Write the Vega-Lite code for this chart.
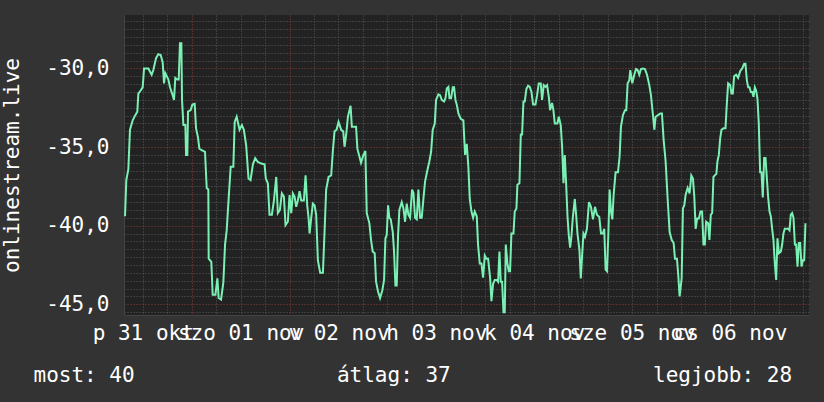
{
  "$schema": "https://vega.github.io/schema/vega-lite/v6.json",
  "width": 685,
  "height": 300,
  "autosize": {"type": "none"},
  "padding": {"left": 124, "top": 15, "right": 15, "bottom": 87},
  "background": "#333333",
  "config": {
    "view": {"fill": "#222222", "stroke": null},
    "font": "DejaVu Sans Mono",
    "axis": {
      "labelFont": "DejaVu Sans Mono",
      "titleFont": "DejaVu Sans Mono",
      "labelFontSize": 21,
      "titleFontSize": 21,
      "labelColor": "#ffffff",
      "titleColor": "#ffffff",
      "titleFontWeight": "normal",
      "ticks": false,
      "domainColor": "#444444",
      "gridDash": [1, 2],
      "gridOpacity": 1,
      "gridWidth": 1
    }
  },
  "data": {
    "values": [
      {"time": "2025-10-31T07:39:00Z", "value": -39.4},
      {"time": "2025-10-31T07:58:00Z", "value": -37.1},
      {"time": "2025-10-31T08:28:00Z", "value": -36.4},
      {"time": "2025-10-31T08:52:00Z", "value": -33.9},
      {"time": "2025-10-31T09:32:00Z", "value": -33.3},
      {"time": "2025-10-31T10:06:00Z", "value": -33.0},
      {"time": "2025-10-31T10:40:00Z", "value": -32.75},
      {"time": "2025-10-31T10:55:00Z", "value": -31.6},
      {"time": "2025-10-31T11:29:00Z", "value": -31.4},
      {"time": "2025-10-31T11:59:00Z", "value": -31.2},
      {"time": "2025-10-31T12:19:00Z", "value": -30.0},
      {"time": "2025-10-31T13:22:00Z", "value": -30.0},
      {"time": "2025-10-31T14:11:00Z", "value": -30.4},
      {"time": "2025-10-31T14:36:00Z", "value": -30.1},
      {"time": "2025-10-31T15:15:00Z", "value": -29.35},
      {"time": "2025-10-31T15:49:00Z", "value": -29.1},
      {"time": "2025-10-31T16:24:00Z", "value": -29.15},
      {"time": "2025-10-31T16:53:00Z", "value": -29.6},
      {"time": "2025-10-31T17:13:00Z", "value": -30.95},
      {"time": "2025-10-31T17:32:00Z", "value": -30.3},
      {"time": "2025-10-31T18:17:00Z", "value": -30.7},
      {"time": "2025-10-31T18:41:00Z", "value": -31.2},
      {"time": "2025-10-31T19:20:00Z", "value": -31.7},
      {"time": "2025-10-31T19:40:00Z", "value": -32.0},
      {"time": "2025-10-31T19:59:00Z", "value": -30.6},
      {"time": "2025-10-31T20:29:00Z", "value": -30.7},
      {"time": "2025-10-31T20:49:00Z", "value": -30.7},
      {"time": "2025-10-31T21:08:00Z", "value": -28.4},
      {"time": "2025-10-31T21:28:00Z", "value": -28.4},
      {"time": "2025-10-31T21:38:00Z", "value": -32.0},
      {"time": "2025-10-31T21:58:00Z", "value": -33.6},
      {"time": "2025-10-31T22:27:00Z", "value": -33.6},
      {"time": "2025-10-31T22:37:00Z", "value": -35.5},
      {"time": "2025-10-31T22:56:00Z", "value": -35.5},
      {"time": "2025-10-31T23:06:00Z", "value": -32.75},
      {"time": "2025-10-31T23:45:00Z", "value": -32.65},
      {"time": "2025-11-01T00:10:00Z", "value": -32.3},
      {"time": "2025-11-01T00:44:00Z", "value": -32.25},
      {"time": "2025-11-01T01:04:00Z", "value": -33.8},
      {"time": "2025-11-01T01:33:00Z", "value": -34.4},
      {"time": "2025-11-01T01:53:00Z", "value": -35.1},
      {"time": "2025-11-01T02:27:00Z", "value": -35.2},
      {"time": "2025-11-01T03:16:00Z", "value": -35.3},
      {"time": "2025-11-01T03:41:00Z", "value": -37.6},
      {"time": "2025-11-01T04:05:00Z", "value": -37.7},
      {"time": "2025-11-01T04:10:00Z", "value": -42.1},
      {"time": "2025-11-01T04:49:00Z", "value": -42.3},
      {"time": "2025-11-01T05:09:00Z", "value": -44.4},
      {"time": "2025-11-01T05:49:00Z", "value": -44.4},
      {"time": "2025-11-01T06:18:00Z", "value": -43.35},
      {"time": "2025-11-01T06:37:00Z", "value": -44.6},
      {"time": "2025-11-01T07:12:00Z", "value": -44.7},
      {"time": "2025-11-01T07:46:00Z", "value": -43.6},
      {"time": "2025-11-01T08:11:00Z", "value": -41.2},
      {"time": "2025-11-01T08:35:00Z", "value": -40.3},
      {"time": "2025-11-01T09:05:00Z", "value": -38.2},
      {"time": "2025-11-01T09:34:00Z", "value": -36.25},
      {"time": "2025-11-01T10:13:00Z", "value": -36.25},
      {"time": "2025-11-01T10:33:00Z", "value": -33.4},
      {"time": "2025-11-01T11:02:00Z", "value": -33.07},
      {"time": "2025-11-01T11:44:00Z", "value": -33.9},
      {"time": "2025-11-01T12:19:00Z", "value": -33.6},
      {"time": "2025-11-01T12:48:00Z", "value": -33.9},
      {"time": "2025-11-01T13:22:00Z", "value": -34.9},
      {"time": "2025-11-01T13:56:00Z", "value": -37.0},
      {"time": "2025-11-01T14:26:00Z", "value": -37.1},
      {"time": "2025-11-01T15:01:00Z", "value": -36.1},
      {"time": "2025-11-01T15:35:00Z", "value": -35.7},
      {"time": "2025-11-01T16:14:00Z", "value": -35.95},
      {"time": "2025-11-01T17:03:00Z", "value": -36.05},
      {"time": "2025-11-01T17:52:00Z", "value": -36.1},
      {"time": "2025-11-01T18:11:00Z", "value": -37.0},
      {"time": "2025-11-01T18:41:00Z", "value": -37.3},
      {"time": "2025-11-01T19:05:00Z", "value": -39.3},
      {"time": "2025-11-01T19:40:00Z", "value": -39.3},
      {"time": "2025-11-01T20:10:00Z", "value": -38.4},
      {"time": "2025-11-01T20:44:00Z", "value": -36.9},
      {"time": "2025-11-01T21:08:00Z", "value": -39.2},
      {"time": "2025-11-01T21:38:00Z", "value": -39.0},
      {"time": "2025-11-01T22:07:00Z", "value": -37.95},
      {"time": "2025-11-01T22:37:00Z", "value": -38.15},
      {"time": "2025-11-01T23:01:00Z", "value": -39.96},
      {"time": "2025-11-01T23:35:00Z", "value": -39.75},
      {"time": "2025-11-02T00:00:00Z", "value": -38.05},
      {"time": "2025-11-02T00:25:00Z", "value": -39.2},
      {"time": "2025-11-02T00:49:00Z", "value": -37.95},
      {"time": "2025-11-02T01:14:00Z", "value": -38.15},
      {"time": "2025-11-02T01:38:00Z", "value": -38.8},
      {"time": "2025-11-02T02:02:00Z", "value": -38.4},
      {"time": "2025-11-02T02:27:00Z", "value": -37.8},
      {"time": "2025-11-02T02:52:00Z", "value": -38.4},
      {"time": "2025-11-02T03:31:00Z", "value": -38.4},
      {"time": "2025-11-02T03:56:00Z", "value": -36.8},
      {"time": "2025-11-02T04:20:00Z", "value": -38.7},
      {"time": "2025-11-02T04:40:00Z", "value": -39.5},
      {"time": "2025-11-02T04:55:00Z", "value": -40.5},
      {"time": "2025-11-02T05:19:00Z", "value": -39.5},
      {"time": "2025-11-02T05:43:00Z", "value": -38.6},
      {"time": "2025-11-02T06:08:00Z", "value": -38.7},
      {"time": "2025-11-02T06:32:00Z", "value": -39.3},
      {"time": "2025-11-02T06:57:00Z", "value": -42.2},
      {"time": "2025-11-02T07:31:00Z", "value": -43.0},
      {"time": "2025-11-02T08:11:00Z", "value": -43.0},
      {"time": "2025-11-02T08:35:00Z", "value": -40.4},
      {"time": "2025-11-02T08:59:00Z", "value": -37.7},
      {"time": "2025-11-02T09:34:00Z", "value": -36.9},
      {"time": "2025-11-02T10:13:00Z", "value": -36.8},
      {"time": "2025-11-02T10:38:00Z", "value": -35.2},
      {"time": "2025-11-02T11:02:00Z", "value": -34.0},
      {"time": "2025-11-02T11:32:00Z", "value": -33.9},
      {"time": "2025-11-02T12:01:00Z", "value": -33.4},
      {"time": "2025-11-02T12:40:00Z", "value": -33.9},
      {"time": "2025-11-02T13:10:00Z", "value": -34.0},
      {"time": "2025-11-02T13:29:00Z", "value": -34.98},
      {"time": "2025-11-02T13:54:00Z", "value": -34.2},
      {"time": "2025-11-02T14:19:00Z", "value": -33.07},
      {"time": "2025-11-02T14:58:00Z", "value": -32.37},
      {"time": "2025-11-02T15:17:00Z", "value": -33.7},
      {"time": "2025-11-02T15:40:00Z", "value": -33.7},
      {"time": "2025-11-02T16:19:00Z", "value": -33.7},
      {"time": "2025-11-02T16:38:00Z", "value": -35.1},
      {"time": "2025-11-02T17:08:00Z", "value": -35.6},
      {"time": "2025-11-02T17:32:00Z", "value": -36.0},
      {"time": "2025-11-02T18:07:00Z", "value": -35.5},
      {"time": "2025-11-02T18:36:00Z", "value": -35.25},
      {"time": "2025-11-02T18:56:00Z", "value": -39.2},
      {"time": "2025-11-02T19:35:00Z", "value": -39.85},
      {"time": "2025-11-02T19:59:00Z", "value": -40.9},
      {"time": "2025-11-02T20:24:00Z", "value": -41.65},
      {"time": "2025-11-02T20:53:00Z", "value": -41.75},
      {"time": "2025-11-02T21:13:00Z", "value": -43.56},
      {"time": "2025-11-02T21:43:00Z", "value": -44.2},
      {"time": "2025-11-02T22:12:00Z", "value": -44.6},
      {"time": "2025-11-02T22:46:00Z", "value": -44.1},
      {"time": "2025-11-02T23:11:00Z", "value": -43.45},
      {"time": "2025-11-02T23:31:00Z", "value": -40.8},
      {"time": "2025-11-02T23:50:00Z", "value": -40.6},
      {"time": "2025-11-03T00:10:00Z", "value": -38.7},
      {"time": "2025-11-03T00:29:00Z", "value": -39.5},
      {"time": "2025-11-03T00:49:00Z", "value": -39.6},
      {"time": "2025-11-03T01:19:00Z", "value": -40.4},
      {"time": "2025-11-03T01:38:00Z", "value": -41.65},
      {"time": "2025-11-03T01:58:00Z", "value": -43.8},
      {"time": "2025-11-03T02:17:00Z", "value": -43.8},
      {"time": "2025-11-03T02:37:00Z", "value": -40.6},
      {"time": "2025-11-03T02:56:00Z", "value": -39.0},
      {"time": "2025-11-03T03:31:00Z", "value": -38.5},
      {"time": "2025-11-03T03:56:00Z", "value": -38.9},
      {"time": "2025-11-03T04:20:00Z", "value": -39.75},
      {"time": "2025-11-03T04:44:00Z", "value": -38.6},
      {"time": "2025-11-03T05:09:00Z", "value": -39.3},
      {"time": "2025-11-03T05:34:00Z", "value": -39.5},
      {"time": "2025-11-03T06:03:00Z", "value": -37.7},
      {"time": "2025-11-03T06:23:00Z", "value": -37.9},
      {"time": "2025-11-03T06:47:00Z", "value": -39.5},
      {"time": "2025-11-03T07:12:00Z", "value": -39.6},
      {"time": "2025-11-03T07:36:00Z", "value": -37.7},
      {"time": "2025-11-03T08:01:00Z", "value": -39.5},
      {"time": "2025-11-03T08:25:00Z", "value": -39.5},
      {"time": "2025-11-03T08:50:00Z", "value": -38.3},
      {"time": "2025-11-03T09:14:00Z", "value": -37.2},
      {"time": "2025-11-03T09:49:00Z", "value": -36.46},
      {"time": "2025-11-03T10:18:00Z", "value": -35.9},
      {"time": "2025-11-03T10:43:00Z", "value": -35.3},
      {"time": "2025-11-03T11:07:00Z", "value": -33.9},
      {"time": "2025-11-03T11:37:00Z", "value": -33.5},
      {"time": "2025-11-03T11:56:00Z", "value": -32.0},
      {"time": "2025-11-03T12:31:00Z", "value": -31.65},
      {"time": "2025-11-03T12:55:00Z", "value": -31.7},
      {"time": "2025-11-03T13:20:00Z", "value": -32.0},
      {"time": "2025-11-03T13:54:00Z", "value": -32.1},
      {"time": "2025-11-03T14:14:00Z", "value": -31.9},
      {"time": "2025-11-03T14:34:00Z", "value": -31.27},
      {"time": "2025-11-03T14:58:00Z", "value": -31.17},
      {"time": "2025-11-03T15:13:00Z", "value": -31.9},
      {"time": "2025-11-03T15:37:00Z", "value": -31.9},
      {"time": "2025-11-03T16:02:00Z", "value": -31.2},
      {"time": "2025-11-03T16:21:00Z", "value": -31.2},
      {"time": "2025-11-03T16:41:00Z", "value": -32.0},
      {"time": "2025-11-03T17:01:00Z", "value": -32.3},
      {"time": "2025-11-03T17:25:00Z", "value": -32.86},
      {"time": "2025-11-03T17:59:00Z", "value": -33.2},
      {"time": "2025-11-03T18:38:00Z", "value": -33.3},
      {"time": "2025-11-03T19:03:00Z", "value": -35.5},
      {"time": "2025-11-03T19:28:00Z", "value": -34.8},
      {"time": "2025-11-03T19:52:00Z", "value": -36.3},
      {"time": "2025-11-03T20:12:00Z", "value": -38.3},
      {"time": "2025-11-03T20:37:00Z", "value": -39.1},
      {"time": "2025-11-03T21:01:00Z", "value": -39.5},
      {"time": "2025-11-03T21:25:00Z", "value": -39.1},
      {"time": "2025-11-03T21:55:00Z", "value": -39.4},
      {"time": "2025-11-03T22:14:00Z", "value": -41.2},
      {"time": "2025-11-03T22:39:00Z", "value": -42.4},
      {"time": "2025-11-03T23:04:00Z", "value": -42.4},
      {"time": "2025-11-03T23:28:00Z", "value": -43.3},
      {"time": "2025-11-03T23:53:00Z", "value": -41.9},
      {"time": "2025-11-04T00:17:00Z", "value": -42.1},
      {"time": "2025-11-04T00:42:00Z", "value": -42.1},
      {"time": "2025-11-04T01:11:00Z", "value": -43.3},
      {"time": "2025-11-04T01:31:00Z", "value": -44.8},
      {"time": "2025-11-04T01:55:00Z", "value": -43.7},
      {"time": "2025-11-04T02:20:00Z", "value": -43.45},
      {"time": "2025-11-04T02:49:00Z", "value": -43.45},
      {"time": "2025-11-04T03:09:00Z", "value": -43.56},
      {"time": "2025-11-04T03:29:00Z", "value": -41.65},
      {"time": "2025-11-04T03:48:00Z", "value": -43.56},
      {"time": "2025-11-04T04:08:00Z", "value": -43.56},
      {"time": "2025-11-04T04:28:00Z", "value": -45.5},
      {"time": "2025-11-04T04:47:00Z", "value": -45.5},
      {"time": "2025-11-04T05:02:00Z", "value": -41.2},
      {"time": "2025-11-04T05:26:00Z", "value": -42.4},
      {"time": "2025-11-04T05:46:00Z", "value": -42.9},
      {"time": "2025-11-04T06:05:00Z", "value": -42.9},
      {"time": "2025-11-04T06:25:00Z", "value": -40.5},
      {"time": "2025-11-04T06:55:00Z", "value": -40.5},
      {"time": "2025-11-04T07:14:00Z", "value": -39.1},
      {"time": "2025-11-04T07:39:00Z", "value": -38.9},
      {"time": "2025-11-04T07:53:00Z", "value": -37.4},
      {"time": "2025-11-04T08:23:00Z", "value": -37.3},
      {"time": "2025-11-04T08:43:00Z", "value": -34.2},
      {"time": "2025-11-04T09:02:00Z", "value": -34.2},
      {"time": "2025-11-04T09:22:00Z", "value": -32.1},
      {"time": "2025-11-04T09:41:00Z", "value": -32.1},
      {"time": "2025-11-04T10:06:00Z", "value": -31.3},
      {"time": "2025-11-04T10:31:00Z", "value": -31.1},
      {"time": "2025-11-04T10:55:00Z", "value": -31.17},
      {"time": "2025-11-04T11:20:00Z", "value": -31.5},
      {"time": "2025-11-04T11:44:00Z", "value": -32.3},
      {"time": "2025-11-04T12:19:00Z", "value": -32.3},
      {"time": "2025-11-04T12:43:00Z", "value": -31.7},
      {"time": "2025-11-04T13:07:00Z", "value": -30.95},
      {"time": "2025-11-04T13:37:00Z", "value": -30.95},
      {"time": "2025-11-04T13:56:00Z", "value": -32.0},
      {"time": "2025-11-04T14:21:00Z", "value": -31.06},
      {"time": "2025-11-04T14:46:00Z", "value": -31.17},
      {"time": "2025-11-04T15:10:00Z", "value": -31.06},
      {"time": "2025-11-04T15:35:00Z", "value": -31.8},
      {"time": "2025-11-04T15:54:00Z", "value": -32.65},
      {"time": "2025-11-04T16:23:00Z", "value": -32.2},
      {"time": "2025-11-04T16:43:00Z", "value": -32.65},
      {"time": "2025-11-04T17:03:00Z", "value": -33.5},
      {"time": "2025-11-04T17:42:00Z", "value": -33.5},
      {"time": "2025-11-04T18:02:00Z", "value": -33.07},
      {"time": "2025-11-04T18:31:00Z", "value": -33.6},
      {"time": "2025-11-04T18:51:00Z", "value": -35.0},
      {"time": "2025-11-04T19:11:00Z", "value": -37.3},
      {"time": "2025-11-04T19:30:00Z", "value": -35.5},
      {"time": "2025-11-04T19:50:00Z", "value": -37.3},
      {"time": "2025-11-04T20:10:00Z", "value": -39.4},
      {"time": "2025-11-04T20:29:00Z", "value": -40.6},
      {"time": "2025-11-04T20:49:00Z", "value": -41.4},
      {"time": "2025-11-04T21:08:00Z", "value": -40.7},
      {"time": "2025-11-04T21:28:00Z", "value": -39.5},
      {"time": "2025-11-04T21:58:00Z", "value": -38.3},
      {"time": "2025-11-04T22:17:00Z", "value": -39.3},
      {"time": "2025-11-04T22:37:00Z", "value": -40.5},
      {"time": "2025-11-04T23:06:00Z", "value": -41.55},
      {"time": "2025-11-04T23:26:00Z", "value": -43.35},
      {"time": "2025-11-04T23:45:00Z", "value": -41.9},
      {"time": "2025-11-05T00:05:00Z", "value": -40.5},
      {"time": "2025-11-05T00:27:00Z", "value": -40.7},
      {"time": "2025-11-05T00:56:00Z", "value": -40.2},
      {"time": "2025-11-05T01:26:00Z", "value": -38.5},
      {"time": "2025-11-05T01:55:00Z", "value": -38.8},
      {"time": "2025-11-05T02:25:00Z", "value": -39.6},
      {"time": "2025-11-05T02:55:00Z", "value": -38.8},
      {"time": "2025-11-05T03:23:00Z", "value": -39.3},
      {"time": "2025-11-05T03:58:00Z", "value": -39.45},
      {"time": "2025-11-05T04:23:00Z", "value": -40.5},
      {"time": "2025-11-05T04:52:00Z", "value": -40.5},
      {"time": "2025-11-05T05:11:00Z", "value": -40.2},
      {"time": "2025-11-05T05:31:00Z", "value": -42.8},
      {"time": "2025-11-05T05:51:00Z", "value": -42.9},
      {"time": "2025-11-05T06:10:00Z", "value": -40.7},
      {"time": "2025-11-05T06:30:00Z", "value": -37.7},
      {"time": "2025-11-05T06:50:00Z", "value": -39.1},
      {"time": "2025-11-05T07:10:00Z", "value": -39.6},
      {"time": "2025-11-05T07:29:00Z", "value": -38.05},
      {"time": "2025-11-05T07:58:00Z", "value": -36.6},
      {"time": "2025-11-05T08:33:00Z", "value": -36.6},
      {"time": "2025-11-05T08:57:00Z", "value": -35.6},
      {"time": "2025-11-05T09:17:00Z", "value": -33.7},
      {"time": "2025-11-05T09:46:00Z", "value": -32.97},
      {"time": "2025-11-05T10:16:00Z", "value": -32.65},
      {"time": "2025-11-05T10:35:00Z", "value": -32.65},
      {"time": "2025-11-05T10:55:00Z", "value": -30.95},
      {"time": "2025-11-05T11:20:00Z", "value": -30.74},
      {"time": "2025-11-05T11:34:00Z", "value": -30.1},
      {"time": "2025-11-05T12:04:00Z", "value": -30.95},
      {"time": "2025-11-05T12:33:00Z", "value": -30.4},
      {"time": "2025-11-05T12:58:00Z", "value": -30.04},
      {"time": "2025-11-05T13:22:00Z", "value": -30.1},
      {"time": "2025-11-05T13:47:00Z", "value": -30.4},
      {"time": "2025-11-05T14:11:00Z", "value": -30.04},
      {"time": "2025-11-05T14:41:00Z", "value": -30.0},
      {"time": "2025-11-05T15:10:00Z", "value": -30.04},
      {"time": "2025-11-05T15:40:00Z", "value": -30.4},
      {"time": "2025-11-05T16:14:00Z", "value": -31.06},
      {"time": "2025-11-05T16:38:00Z", "value": -31.7},
      {"time": "2025-11-05T17:08:00Z", "value": -32.97},
      {"time": "2025-11-05T17:28:00Z", "value": -33.9},
      {"time": "2025-11-05T17:47:00Z", "value": -33.07},
      {"time": "2025-11-05T18:22:00Z", "value": -32.97},
      {"time": "2025-11-05T18:56:00Z", "value": -32.86},
      {"time": "2025-11-05T19:20:00Z", "value": -32.86},
      {"time": "2025-11-05T19:45:00Z", "value": -34.55},
      {"time": "2025-11-05T20:14:00Z", "value": -35.9},
      {"time": "2025-11-05T20:44:00Z", "value": -38.3},
      {"time": "2025-11-05T21:13:00Z", "value": -40.4},
      {"time": "2025-11-05T21:43:00Z", "value": -40.9},
      {"time": "2025-11-05T22:12:00Z", "value": -41.1},
      {"time": "2025-11-05T22:32:00Z", "value": -42.1},
      {"time": "2025-11-05T23:01:00Z", "value": -42.1},
      {"time": "2025-11-05T23:21:00Z", "value": -43.2},
      {"time": "2025-11-05T23:40:00Z", "value": -44.5},
      {"time": "2025-11-06T00:10:00Z", "value": -43.35},
      {"time": "2025-11-06T00:29:00Z", "value": -38.9},
      {"time": "2025-11-06T00:49:00Z", "value": -38.7},
      {"time": "2025-11-06T01:08:00Z", "value": -38.05},
      {"time": "2025-11-06T01:38:00Z", "value": -37.6},
      {"time": "2025-11-06T02:07:00Z", "value": -37.95},
      {"time": "2025-11-06T02:32:00Z", "value": -36.8},
      {"time": "2025-11-06T02:56:00Z", "value": -37.0},
      {"time": "2025-11-06T03:16:00Z", "value": -38.15},
      {"time": "2025-11-06T03:36:00Z", "value": -40.2},
      {"time": "2025-11-06T03:58:00Z", "value": -39.55},
      {"time": "2025-11-06T04:23:00Z", "value": -39.55},
      {"time": "2025-11-06T04:47:00Z", "value": -39.1},
      {"time": "2025-11-06T05:11:00Z", "value": -39.1},
      {"time": "2025-11-06T05:31:00Z", "value": -41.2},
      {"time": "2025-11-06T05:51:00Z", "value": -41.2},
      {"time": "2025-11-06T06:10:00Z", "value": -39.75},
      {"time": "2025-11-06T06:40:00Z", "value": -39.85},
      {"time": "2025-11-06T06:59:00Z", "value": -40.9},
      {"time": "2025-11-06T07:19:00Z", "value": -39.3},
      {"time": "2025-11-06T07:39:00Z", "value": -39.2},
      {"time": "2025-11-06T07:58:00Z", "value": -36.9},
      {"time": "2025-11-06T08:18:00Z", "value": -36.8},
      {"time": "2025-11-06T08:41:00Z", "value": -36.7},
      {"time": "2025-11-06T08:57:00Z", "value": -35.9},
      {"time": "2025-11-06T09:17:00Z", "value": -35.5},
      {"time": "2025-11-06T09:37:00Z", "value": -34.45},
      {"time": "2025-11-06T09:56:00Z", "value": -33.9},
      {"time": "2025-11-06T10:26:00Z", "value": -33.8},
      {"time": "2025-11-06T10:55:00Z", "value": -33.8},
      {"time": "2025-11-06T11:14:00Z", "value": -32.3},
      {"time": "2025-11-06T11:34:00Z", "value": -30.95},
      {"time": "2025-11-06T12:04:00Z", "value": -31.06},
      {"time": "2025-11-06T12:23:00Z", "value": -31.6},
      {"time": "2025-11-06T12:43:00Z", "value": -31.6},
      {"time": "2025-11-06T13:02:00Z", "value": -30.5},
      {"time": "2025-11-06T13:32:00Z", "value": -30.4},
      {"time": "2025-11-06T14:01:00Z", "value": -30.6},
      {"time": "2025-11-06T14:31:00Z", "value": -30.17},
      {"time": "2025-11-06T15:01:00Z", "value": -30.0},
      {"time": "2025-11-06T15:30:00Z", "value": -29.7},
      {"time": "2025-11-06T15:49:00Z", "value": -29.7},
      {"time": "2025-11-06T16:09:00Z", "value": -30.74},
      {"time": "2025-11-06T16:29:00Z", "value": -31.2},
      {"time": "2025-11-06T16:48:00Z", "value": -31.2},
      {"time": "2025-11-06T17:08:00Z", "value": -31.5},
      {"time": "2025-11-06T17:28:00Z", "value": -31.5},
      {"time": "2025-11-06T17:47:00Z", "value": -31.8},
      {"time": "2025-11-06T18:07:00Z", "value": -31.2},
      {"time": "2025-11-06T18:26:00Z", "value": -31.4},
      {"time": "2025-11-06T18:46:00Z", "value": -31.95},
      {"time": "2025-11-06T19:05:00Z", "value": -33.5},
      {"time": "2025-11-06T19:25:00Z", "value": -36.6},
      {"time": "2025-11-06T19:45:00Z", "value": -36.6},
      {"time": "2025-11-06T20:04:00Z", "value": -38.2},
      {"time": "2025-11-06T20:24:00Z", "value": -35.7},
      {"time": "2025-11-06T20:44:00Z", "value": -35.7},
      {"time": "2025-11-06T21:04:00Z", "value": -37.0},
      {"time": "2025-11-06T21:23:00Z", "value": -38.2},
      {"time": "2025-11-06T21:43:00Z", "value": -39.1},
      {"time": "2025-11-06T22:02:00Z", "value": -39.4},
      {"time": "2025-11-06T22:22:00Z", "value": -40.2},
      {"time": "2025-11-06T22:41:00Z", "value": -40.9},
      {"time": "2025-11-06T23:01:00Z", "value": -42.4},
      {"time": "2025-11-06T23:21:00Z", "value": -43.45},
      {"time": "2025-11-06T23:40:00Z", "value": -40.8},
      {"time": "2025-11-07T00:00:00Z", "value": -41.75},
      {"time": "2025-11-07T00:29:00Z", "value": -41.65},
      {"time": "2025-11-07T00:49:00Z", "value": -41.2},
      {"time": "2025-11-07T01:08:00Z", "value": -40.5},
      {"time": "2025-11-07T01:28:00Z", "value": -40.2},
      {"time": "2025-11-07T01:48:00Z", "value": -40.2},
      {"time": "2025-11-07T02:17:00Z", "value": -40.2},
      {"time": "2025-11-07T02:37:00Z", "value": -40.3},
      {"time": "2025-11-07T02:56:00Z", "value": -39.3},
      {"time": "2025-11-07T03:16:00Z", "value": -39.2},
      {"time": "2025-11-07T03:36:00Z", "value": -39.5},
      {"time": "2025-11-07T03:56:00Z", "value": -41.2},
      {"time": "2025-11-07T04:15:00Z", "value": -41.2},
      {"time": "2025-11-07T04:35:00Z", "value": -42.6},
      {"time": "2025-11-07T04:55:00Z", "value": -41.1},
      {"time": "2025-11-07T05:14:00Z", "value": -41.1},
      {"time": "2025-11-07T05:34:00Z", "value": -42.6},
      {"time": "2025-11-07T05:53:00Z", "value": -42.2},
      {"time": "2025-11-07T06:13:00Z", "value": -42.2},
      {"time": "2025-11-07T06:32:00Z", "value": -39.85}
    ]
  },
  "mark": {"type": "line", "color": "#7af0b4", "strokeWidth": 2, "clip": true},
  "encoding": {
    "x": {
      "field": "time",
      "type": "temporal",
      "scale": {
        "type": "utc",
        "nice": false,
        "domain": [1761895440000, 1762500240000]
      },
      "axis": {
        "values": [1761912000000, 1761933600000, 1761955200000, 1761976800000, 1761998400000, 1762020000000, 1762041600000, 1762063200000, 1762084800000, 1762106400000, 1762128000000, 1762149600000, 1762171200000, 1762192800000, 1762214400000, 1762236000000, 1762257600000, 1762279200000, 1762300800000, 1762322400000, 1762344000000, 1762365600000, 1762387200000, 1762408800000, 1762430400000, 1762452000000, 1762473600000, 1762495200000],
        "grid": true,
        "gridColor": {"condition": {"test": "utchours(datum.value) == 0", "value": "#8a3a3a"}, "value": "#5a5a5a"},
        "labelExpr": "utchours(datum.value) != 12 ? '' : (utcday(datum.value) == 0 ? 'v' : utcday(datum.value) == 1 ? 'h' : utcday(datum.value) == 2 ? 'k' : utcday(datum.value) == 3 ? 'sze' : utcday(datum.value) == 4 ? 'cs' : utcday(datum.value) == 5 ? 'p' : 'szo') + ' ' + (utcdate(datum.value) < 10 ? '0' : '') + utcdate(datum.value) + ' ' + (utcmonth(datum.value) == 9 ? 'okt' : 'nov')",
        "labelOverlap": false,
        "labelFlush": false,
        "labelBound": false,
        "labelAlign": "center",
        "labelBaseline": "alphabetic",
        "labelPadding": 24,
        "title": "most: 40\u00a0\u00a0\u00a0\u00a0\u00a0\u00a0\u00a0\u00a0\u00a0\u00a0\u00a0\u00a0\u00a0\u00a0\u00a0\u00a0átlag: 37\u00a0\u00a0\u00a0\u00a0\u00a0\u00a0\u00a0\u00a0\u00a0\u00a0\u00a0\u00a0\u00a0\u00a0\u00a0\u00a0legjobb: 28",
        "titleX": -91,
        "titleY": 66,
        "titleAlign": "left",
        "titleBaseline": "alphabetic",
        "titleLimit": 1000
      }
    },
    "y": {
      "field": "value",
      "type": "quantitative",
      "scale": {"domain": [-45.68, -26.6], "nice": false, "zero": false},
      "axis": {
        "values": [-45.5, -45, -44.5, -44, -43.5, -43, -42.5, -42, -41.5, -41, -40.5, -40, -39.5, -39, -38.5, -38, -37.5, -37, -36.5, -36, -35.5, -35, -34.5, -34, -33.5, -33, -32.5, -32, -31.5, -31, -30.5, -30, -29.5, -29, -28.5, -28, -27.5, -27],
        "grid": true,
        "gridColor": {"condition": {"test": "datum.value % 5 == 0", "value": "#8a3a3a"}, "value": "#5a5a5a"},
        "labelExpr": "datum.value % 5 == 0 ? '-' + abs(datum.value) + ',0' : ''",
        "labelOverlap": false,
        "labelFlush": false,
        "labelBound": false,
        "labelPadding": 15,
        "title": "onlinestream.live",
        "titleX": -106,
        "titleY": 150,
        "titleAngle": -90,
        "titleAlign": "center",
        "titleBaseline": "alphabetic"
      }
    }
  }
}
